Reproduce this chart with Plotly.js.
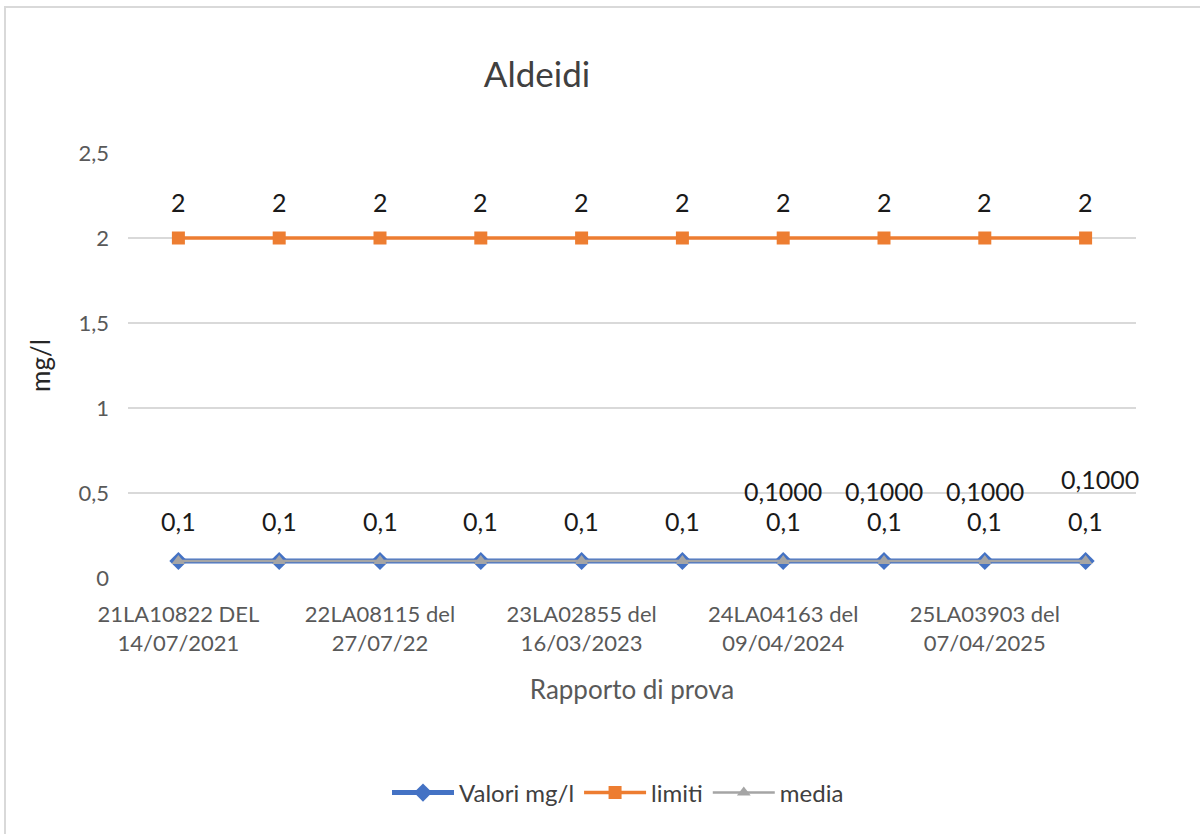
<!DOCTYPE html>
<html>
<head>
<meta charset="utf-8">
<script src="https://cdn.plot.ly/plotly-3.0.1.min.js"></script>
<style>
  html, body { margin: 0; padding: 0; background: #fff; }
  #wrap { position: relative; width: 1200px; height: 834px; }
  #chart { width: 1200px; height: 834px; }
  #frame { position: absolute; left: 4px; top: 6px; right: -4px; bottom: -4px;
           border-top: 2px solid #d9d9d9; border-left: 2px solid #d9d9d9; pointer-events: none; }
</style>
</head>
<body>
<div id="wrap">
  <div id="chart"></div>
  <div id="frame"></div>
</div>
<script>
// ---- data ----
const xIndex = [0, 1, 2, 3, 4, 5, 6, 7, 8, 9];
const tickPositions = [0, 2, 4, 6, 8];
const tickLabels = [
  "21LA10822 DEL<br>14/07/2021",
  "22LA08115 del<br>27/07/22",
  "23LA02855 del<br>16/03/2023",
  "24LA04163 del<br>09/04/2024",
  "25LA03903 del<br>07/04/2025"
];
const valori = [0.1, 0.1, 0.1, 0.1, 0.1, 0.1, 0.1, 0.1, 0.1, 0.1];
const limiti = [2, 2, 2, 2, 2, 2, 2, 2, 2, 2];
const media = [0.1, 0.1, 0.1, 0.1, 0.1, 0.1, 0.1, 0.1, 0.1, 0.1];
const valoriLabels = ["0,1", "0,1", "0,1", "0,1", "0,1", "0,1", "0,1", "0,1", "0,1", "0,1"];
const limitiLabels = ["2", "2", "2", "2", "2", "2", "2", "2", "2", "2"];
const mediaLabels = [null, null, null, null, null, null, "0,1000", "0,1000", "0,1000", "0,1000"];

const FONT = "Lato, 'Open Sans', sans-serif";

const traces = [
  { x: xIndex, y: valori, name: "Valori mg/l", type: "scatter", mode: "lines+markers",
    line: { color: "#4472C4", width: 5 },
    marker: { symbol: "diamond", size: 14, color: "#4472C4" } },
  { x: xIndex, y: limiti, name: "limiti", type: "scatter", mode: "lines+markers",
    line: { color: "#ED7D31", width: 3.5 },
    marker: { symbol: "square", size: 13, color: "#ED7D31" } },
  { x: xIndex, y: media, name: "media", type: "scatter", mode: "lines+markers",
    line: { color: "#A5A5A5", width: 2.5 },
    marker: { symbol: "triangle-up", size: 12, color: "#A5A5A5" } }
];

const annotations = [];
function addLabels(vals, labels, yshift) {
  xIndex.forEach((xi, i) => {
    if (labels[i] == null) return;
    annotations.push({ x: xi, y: vals[i], xref: "x", yref: "y", text: labels[i],
      showarrow: false, yshift: yshift, font: { family: FONT, size: 25, color: "#1a1a1a" } });
  });
}
addLabels(valori, valoriLabels, 40);
addLabels(limiti, limitiLabels, 36);
addLabels(media, mediaLabels, 70);
// last media label sits slightly higher/right in the original
annotations[annotations.length - 1].yshift = 82;
annotations[annotations.length - 1].xshift = 14;

const layout = {
  width: 1200, height: 834,
  paper_bgcolor: "#ffffff", plot_bgcolor: "#ffffff",
  separators: ",.",
  font: { family: FONT, size: 22, color: "#595959" },
  margin: { l: 128, r: 64, t: 153, b: 256 },
  title: { text: "Aldeidi", x: 0.4475, xref: "container", xanchor: "center",
           y: 1 - 75 / 834, yref: "container", yanchor: "middle",
           font: { family: FONT, size: 35, color: "#404040" } },
  xaxis: {
    range: [-0.5, 9.5], tickmode: "array", tickvals: tickPositions, ticktext: tickLabels,
    showgrid: false, zeroline: false, showline: false, ticks: "",
    ticklabelstandoff: 21,
    tickfont: { family: FONT, size: 22, color: "#595959" },
    title: { text: "Rapporto di prova", standoff: 26, font: { family: FONT, size: 26, color: "#595959" } },
    fixedrange: true
  },
  yaxis: {
    range: [0, 2.5], tickvals: [0, 0.5, 1, 1.5, 2, 2.5],
    ticktext: ["0", "0,5", "1", "1,5", "2", "2,5"],
    showgrid: true, gridcolor: "#d9d9d9", gridwidth: 2, zeroline: false, showline: false,
    ticks: "", ticklabelstandoff: 18,
    tickfont: { family: FONT, size: 22, color: "#595959" },
    title: { text: "mg/l", standoff: 20, font: { family: FONT, size: 26, color: "#262626" } },
    fixedrange: true
  },
  legend: { orientation: "h", x: 0.515, xref: "container", xanchor: "center",
            y: 1 - 793 / 834, yref: "container", yanchor: "middle",
            font: { family: FONT, size: 24, color: "#404040" },
            itemwidth: 62, tracegroupgap: 0 },
  annotations: annotations
};

Plotly.newPlot("chart", traces, layout, { displayModeBar: false, staticPlot: true });
</script>
</body>
</html>
